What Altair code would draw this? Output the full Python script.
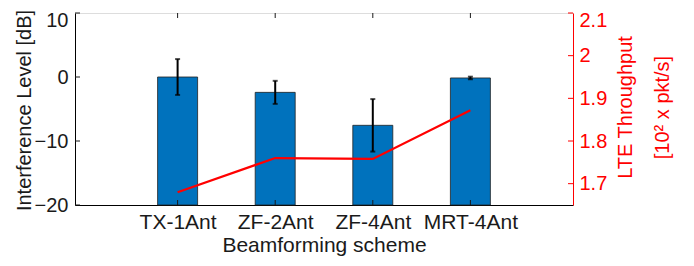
import altair as alt
import pandas as pd

categories = ["TX-1Ant", "ZF-2Ant", "ZF-4Ant", "MRT-4Ant"]
interference = [0.0, -2.4, -7.55, -0.15]
interference_err = [2.8, 1.8, 4.1, 0.2]
throughput = [1.680, 1.760, 1.758, 1.872]
left_ticks = [-20, -10, 0, 10]
right_ticks = [1.7, 1.8, 1.9, 2.0, 2.1]

W, H = 498, 192
FONT = "Liberation Sans"
BLUE = "#0072BD"
RED = "#FF0000"
INK = "#1a1a1a"

df = pd.DataFrame({
    "pos": list(range(1, len(categories) + 1)),
    "cat": categories,
    "intf": interference,
    "lo": [v - e for v, e in zip(interference, interference_err)],
    "hi": [v + e for v, e in zip(interference, interference_err)],
    "thr": throughput,
})
lt = pd.DataFrame({"v": left_ticks})
rt = pd.DataFrame({"v": right_ticks})

label_expr = "[" + ",".join(['""'] + ['"%s"' % c for c in categories] + ['""']) + "][datum.value]"

xscale = alt.Scale(domain=[0, 5], nice=False, zero=False)
x_enc = alt.X("pos:Q", scale=xscale, axis=alt.Axis(
    values=[1, 2, 3, 4], labelExpr=label_expr, title="Beamforming scheme",
    ticks=False, tickSize=0, grid=False, domainColor="black", domainWidth=1,
    labelFont=FONT, labelFontSize=21, labelColor=INK, labelPadding=6,
    titleFont=FONT, titleFontSize=21, titleFontWeight="normal", titleColor=INK,
    titleBaseline="middle", titleX=W / 2, titleY=40))

yl_scale = alt.Scale(domain=[-20, 10], nice=False, zero=False)
yr_scale = alt.Scale(domain=[1.65, 2.1], nice=False, zero=False)

left_axis = alt.Axis(
    values=left_ticks, title="Interference Level [dB]", ticks=False, tickSize=0,
    grid=False, domainColor="black", domainWidth=1,
    labelFont=FONT, labelFontSize=20, labelColor=INK, labelPadding=7,
    labelOffset={"condition": {"test": "datum.value == 10", "value": 7}, "value": 0},
    titleFont=FONT, titleFontSize=20, titleFontWeight="normal", titleColor=INK,
    titleAngle=270, titleBaseline="middle", titleAlign="center", titleX=-51, titleY=H / 2 + 1)

right_axis = alt.Axis(
    orient="right", values=right_ticks, format=".2~f",
    title=["LTE Throughput", "[10² x pkt/s]"], ticks=False, tickSize=0, grid=False,
    domainColor=RED, domainWidth=1, zindex=2,
    labelFont=FONT, labelFontSize=20, labelColor=RED, labelPadding=6,
    labelOffset={"condition": {"test": "datum.value > 2.05", "value": 7}, "value": 0},
    titleFont=FONT, titleFontSize=20, titleFontWeight="normal", titleColor=RED,
    titleAngle=270, titleBaseline="middle", titleAlign="center", titleLineHeight=37,
    titleX=52, titleY=H / 2 - 2)

bars = alt.Chart(df).mark_bar(size=40, color=BLUE, stroke="#222222", strokeWidth=0.8).encode(
    x=x_enc,
    y=alt.Y("intf:Q", scale=yl_scale, axis=left_axis),
    y2=alt.datum(-20),
)
err = alt.Chart(df).mark_rule(color="black", strokeWidth=2).encode(
    x="pos:Q", y=alt.Y("lo:Q", scale=yl_scale, axis=left_axis), y2="hi:Q")
cap_lo = alt.Chart(df).mark_tick(color="black", orient="horizontal", size=5, thickness=2).encode(
    x="pos:Q", y=alt.Y("lo:Q", scale=yl_scale, axis=left_axis))
cap_hi = alt.Chart(df).mark_tick(color="black", orient="horizontal", size=5, thickness=2).encode(
    x="pos:Q", y=alt.Y("hi:Q", scale=yl_scale, axis=left_axis))
xt_bot = alt.Chart(df).mark_rule(color=INK, strokeWidth=1).encode(
    x="pos:Q", y=alt.value(H), y2=alt.value(H - 5))
xt_top = alt.Chart(df).mark_rule(color=INK, strokeWidth=1).encode(
    x="pos:Q", y=alt.value(0), y2=alt.value(5))
yt_left = alt.Chart(lt).mark_rule(color=INK, strokeWidth=1).encode(
    y=alt.Y("v:Q", scale=yl_scale, axis=left_axis), x=alt.value(0), x2=alt.value(5))

left = alt.layer(bars, err, cap_lo, cap_hi, xt_bot, xt_top, yt_left)

line = alt.Chart(df).mark_line(color=RED, strokeWidth=2.2).encode(
    x="pos:Q",
    y=alt.Y("thr:Q", scale=yr_scale, axis=right_axis),
)
yt_right = alt.Chart(rt).mark_rule(color=RED, strokeWidth=1).encode(
    y=alt.Y("v:Q", scale=yr_scale, axis=right_axis), x=alt.value(W - 5), x2=alt.value(W))

right = alt.layer(line, yt_right)

chart = alt.layer(left, right).resolve_scale(y="independent").properties(
    width=W, height=H,
    autosize=alt.AutoSizeParams(type="none"),
    padding={"left": 67, "top": 5, "right": 113, "bottom": 53},
).configure_view(stroke="black", strokeWidth=1).configure(background="white")

chart.save("out.html", embed_options={"renderer": "svg", "actions": False})
